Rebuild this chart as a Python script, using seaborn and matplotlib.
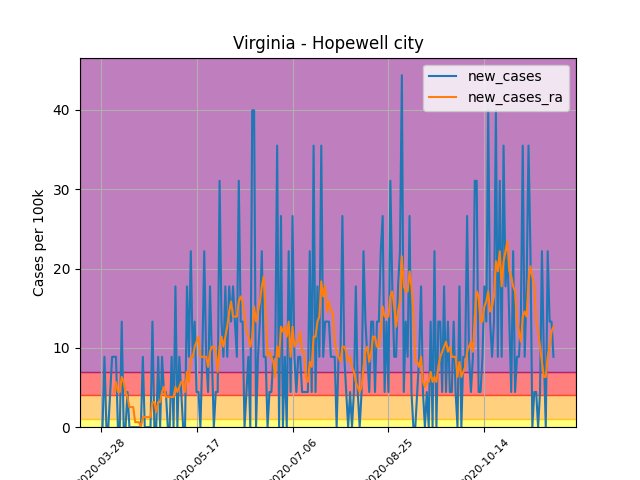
import numpy as np
import pandas as pd
import matplotlib
matplotlib.use("Agg")
import matplotlib.pyplot as plt
import matplotlib.dates as mdates
import seaborn as sns

# Hopewell city, VA - daily new cases (counts)
start_date = "2020-03-29"
population = 22529
daily_cases = [
    0, 2, 0, 0, 1, 2, 2, 2, 0, 0, 3, 0, 0, 1, 0, 0, 0, 0, 0, 0,
    0, 2, 0, 0, 0, 0, 3, 0, 0, 2, 0, 2, 1, 1, 0, 0, 2, 0, 4, 0,
    2, 1, 0, 0, 4, 2, 5, 2, 3, 1, 1, 0, 2, 5, 2, 1, 4, 2, 0, 1,
    1, 7, 3, 2, 4, 2, 4, 3, 4, 3, 2, 7, 3, 3, 0, 1, 2, 0, 9, 9,
    0, 2, 3, 5, 2, 2, 0, 1, 1, 2, 2, 8, 0, 6, 0, 2, 0, 5, 1, 6,
    2, 1, 2, 2, 1, 1, 1, 1, 5, 1, 8, 1, 4, 2, 8, 2, 3, 3, 3, 2,
    2, 2, 0, 2, 2, 6, 2, 1, 0, 1, 0, 1, 4, 1, 0, 1, 5, 3, 2, 1,
    3, 3, 1, 3, 3, 5, 6, 1, 3, 1, 7, 4, 2, 2, 4, 5, 10, 1, 3, 2,
    6, 1, 0, 0, 1, 2, 4, 1, 0, 1, 0, 3, 0, 5, 0, 3, 3, 1, 4, 1,
    3, 1, 1, 3, 1, 0, 4, 0, 2, 2, 6, 2, 1, 2, 7, 7, 1, 1, 2, 4,
    3, 9, 3, 2, 3, 9, 2, 7, 2, 8, 4, 5, 3, 1, 5, 1, 2, 2, 3, 8,
    2, 4, 8, 5, 0, 1, 1, 0, 1, 5, 2, 0, 5, 3, 3, 2,
]
rolling_window = 7
tick_dates = ["2020-03-28", "2020-05-17", "2020-07-06", "2020-08-25", "2020-10-14"]

# risk bands (cases per 100k)
band_edges = [0, 1, 4, 7]
band_colors = ["yellow", "orange", "red", "purple"]

df = pd.DataFrame({
    "date": pd.date_range(start_date, periods=len(daily_cases), freq="D"),
    "new_cases": np.array(daily_cases) * 100000 / population,
})
df["new_cases_ra"] = df["new_cases"].rolling(rolling_window).mean()

fig, ax = plt.subplots(figsize=(6.4, 4.8), dpi=100)

sns.lineplot(data=df, x="date", y="new_cases", ax=ax, label="new_cases")
sns.lineplot(data=df, x="date", y="new_cases_ra", ax=ax, label="new_cases_ra")

ax.set_ylim(bottom=0)
top = ax.get_ylim()[1]
edges = band_edges + [top]
for lo, hi, c in zip(edges[:-1], edges[1:], band_colors):
    ax.axhspan(lo, hi, color=c, alpha=0.5)
ax.set_ylim(0, top)

ax.set_xticks(pd.to_datetime(tick_dates))
ax.xaxis.set_major_formatter(mdates.DateFormatter("%Y-%m-%d"))
plt.setp(ax.get_xticklabels(), rotation=45, fontsize=8)

ax.grid(True)
ax.set_xlabel("")
ax.set_ylabel("Cases per 100k")
ax.set_title("Virginia - Hopewell city")
ax.legend(loc="upper right")

fig.savefig("out.png", dpi=100)
